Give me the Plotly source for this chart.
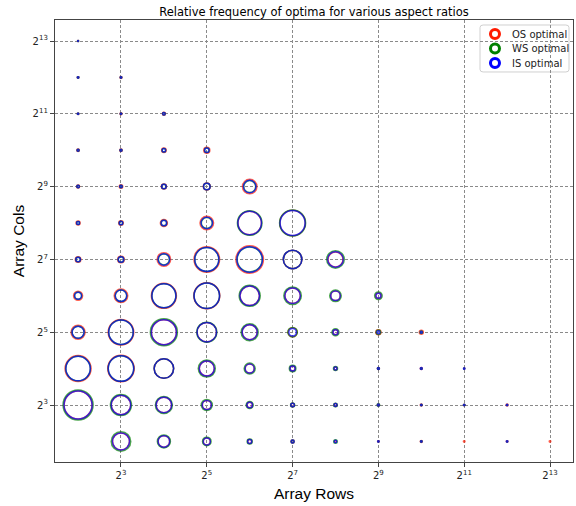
import numpy as np
import plotly.graph_objects as go

# Array shapes evaluated: (rows, cols), grouped by column count (8192 down to 4)
ARRAY_ROWS = [
    4,
    4, 8,
    4, 8, 16,
    4, 8, 16, 32,
    4, 8, 16, 32, 64,
    4, 8, 16, 32, 64, 128,
    4, 8, 16, 32, 64, 128, 256,
    4, 8, 16, 32, 64, 128, 256, 512,
    4, 8, 16, 32, 64, 128, 256, 512, 1024,
    4, 8, 16, 32, 64, 128, 256, 512, 1024, 2048,
    4, 8, 16, 32, 64, 128, 256, 512, 1024, 2048, 4096,
    8, 16, 32, 64, 128, 256, 512, 1024, 2048, 4096, 8192,
]
ARRAY_COLS = [
    8192,
    4096, 4096,
    2048, 2048, 2048,
    1024, 1024, 1024, 1024,
    512, 512, 512, 512, 512,
    256, 256, 256, 256, 256, 256,
    128, 128, 128, 128, 128, 128, 128,
    64, 64, 64, 64, 64, 64, 64, 64,
    32, 32, 32, 32, 32, 32, 32, 32, 32,
    16, 16, 16, 16, 16, 16, 16, 16, 16, 16,
    8, 8, 8, 8, 8, 8, 8, 8, 8, 8, 8,
    4, 4, 4, 4, 4, 4, 4, 4, 4, 4, 4,
]

# Relative frequency (%) with which each shape was optimal, per dataflow
OS_FREQ = [
    0.007,
    0.016, 0.029,
    0.016, 0.029, 0.066,
    0.046, 0.046, 0.148, 0.263,
    0.066, 0.089, 0.182, 0.358, 1.535,
    0.117, 0.148, 0.358, 1.330, 4.031, 4.746,
    0.221, 0.308, 1.330, 4.746, 5.520, 2.498, 1.642,
    0.591, 1.330, 4.562, 4.934, 2.776, 1.754, 0.659, 0.221,
    1.431, 4.746, 4.562, 2.776, 1.642, 0.591, 0.182, 0.182, 0.117,
    4.934, 5.126, 2.776, 1.642, 0.591, 0.182, 0.066, 0.029, 0.029, 0.007,
    5.723, 2.776, 1.754, 0.591, 0.221, 0.089, 0.066, 0.029, 0.029, 0.016, 0.029,
    2.109, 0.965, 0.358, 0.117, 0.066, 0.029, 0.016, 0.029, 0.016, 0.016, 0.016,
]
WS_FREQ = [
    0.007,
    0.016, 0.016,
    0.016, 0.016, 0.046,
    0.029, 0.029, 0.089, 0.148,
    0.046, 0.046, 0.148, 0.308, 1.051,
    0.066, 0.089, 0.221, 0.883, 4.381, 4.934,
    0.148, 0.221, 0.883, 4.204, 4.562, 2.498, 2.235,
    0.358, 0.965, 4.204, 4.746, 3.219, 2.235, 0.965, 0.411,
    1.051, 4.381, 5.321, 2.920, 2.109, 0.659, 0.358, 0.148, 0.046,
    4.381, 4.746, 2.776, 2.109, 0.883, 0.308, 0.117, 0.029, 0.016, 0.007,
    6.569, 3.219, 2.109, 0.883, 0.358, 0.117, 0.089, 0.046, 0.016, 0.016, 0.007,
    2.776, 1.234, 0.527, 0.182, 0.066, 0.089, 0.007, 0.016, 0.0, 0.007, 0.0,
]
IS_FREQ = [
    0.007,
    0.016, 0.016,
    0.016, 0.016, 0.046,
    0.029, 0.029, 0.089, 0.148,
    0.046, 0.046, 0.148, 0.308, 1.141,
    0.066, 0.089, 0.221, 0.965, 4.031, 4.562,
    0.148, 0.221, 0.965, 4.204, 4.746, 2.498, 1.754,
    0.358, 0.965, 4.204, 4.746, 2.776, 1.754, 0.659, 0.182,
    1.051, 4.381, 4.562, 2.776, 1.642, 0.411, 0.182, 0.066, 0.029,
    4.381, 4.746, 2.776, 1.642, 0.591, 0.182, 0.066, 0.029, 0.029, 0.016,
    5.723, 2.776, 1.754, 0.591, 0.221, 0.089, 0.066, 0.029, 0.016, 0.016, 0.016,
    2.109, 0.965, 0.358, 0.117, 0.066, 0.046, 0.016, 0.016, 0.0, 0.016, 0.0,
]

SERIES_NAMES = ["OS optimal", "WS optimal", "IS optimal"]
SERIES_FREQS = [OS_FREQ, WS_FREQ, IS_FREQ]
SERIES_COLORS = ["#ff1a00", "#008000", "#0000ff"]

TICK_EXPS = [3, 5, 7, 9, 11, 13]
TICK_VALS = [2 ** e for e in TICK_EXPS]
TICK_TEXT = [f"2<sup>{e}</sup>" for e in TICK_EXPS]

# bubble area proportional to frequency
SIZEREF = 2.0 / 137.0

rows = np.array(ARRAY_ROWS, dtype=float)
cols = np.array(ARRAY_COLS, dtype=float)

fig = go.Figure()
for name, freq, color in zip(SERIES_NAMES, SERIES_FREQS, SERIES_COLORS):
    f = np.array(freq, dtype=float)
    keep = f > 0
    fig.add_trace(go.Scatter(
        x=rows[keep], y=cols[keep], mode="markers", name=name,
        showlegend=False, hoverinfo="skip",
        marker=dict(symbol="circle-open", size=f[keep], sizemode="area",
                    sizeref=SIZEREF, color=color,
                    line=dict(width=1.5, color=color)),
    ))

# compact legend box in the upper-right corner (unit overlay axes)
LEG_X0, LEG_X1, LEG_Y0, LEG_Y1 = 0.8205, 0.9923, 0.8824, 0.9887
LEG_MARK_X, LEG_TEXT_X = 0.8494, 0.8784
LEG_ROWS_Y = [0.9683, 0.9355, 0.9027]

r = 0.006
fig.add_shape(
    type="path", xref="paper", yref="paper", layer="between",
    path=(f"M {LEG_X0 + r},{LEG_Y0} L {LEG_X1 - r},{LEG_Y0} "
          f"Q {LEG_X1},{LEG_Y0} {LEG_X1},{LEG_Y0 + r} L {LEG_X1},{LEG_Y1 - r} "
          f"Q {LEG_X1},{LEG_Y1} {LEG_X1 - r},{LEG_Y1} L {LEG_X0 + r},{LEG_Y1} "
          f"Q {LEG_X0},{LEG_Y1} {LEG_X0},{LEG_Y1 - r} L {LEG_X0},{LEG_Y0 + r} "
          f"Q {LEG_X0},{LEG_Y0} {LEG_X0 + r},{LEG_Y0} Z"),
    fillcolor="rgba(255,255,255,0.85)", line=dict(color="#d0d0d0", width=1),
)
fig.add_trace(go.Scatter(
    x=[LEG_MARK_X] * 3, y=LEG_ROWS_Y, xaxis="x2", yaxis="y2",
    mode="markers", showlegend=False, hoverinfo="skip", cliponaxis=False,
    marker=dict(symbol="circle-open", size=9, color=SERIES_COLORS,
                line=dict(width=3, color=SERIES_COLORS)),
))
for name, ly in zip(SERIES_NAMES, LEG_ROWS_Y):
    fig.add_annotation(x=LEG_TEXT_X, y=ly, xref="paper", yref="paper",
                       text=name, showarrow=False, xanchor="left", yanchor="middle",
                       font=dict(family="DejaVu Sans", size=10, color="#222222"))

axis_common = dict(
    type="log", tickvals=TICK_VALS, ticktext=TICK_TEXT,
    showgrid=True, gridcolor="#8a8a8a", gridwidth=0.8, griddash="3px,2px",
    zeroline=False, showline=True, mirror=True, linecolor="#444444",
    linewidth=1.2, ticks="outside", ticklen=4, tickcolor="#444444",
    tickfont=dict(family="DejaVu Sans", size=10, color="#222222"),
)

fig.update_layout(
    width=576, height=506,
    margin=dict(l=55, r=3, t=20, b=44),
    paper_bgcolor="white", plot_bgcolor="white",
    showlegend=False,
    title=dict(text="Relative frequency of optima for various aspect ratios",
               x=0.5, xref="paper", xanchor="center", y=0.977, yanchor="middle",
               font=dict(family="DejaVu Sans", size=11.5, color="black")),
    xaxis=dict(axis_common,
               range=[np.log10(2 ** 1.462), np.log10(2 ** 13.536)],
               title=dict(text="Array Rows", standoff=8,
                          font=dict(family="Liberation Sans", size=15.5, color="black"))),
    yaxis=dict(axis_common,
               range=[np.log10(2 ** 1.434), np.log10(2 ** 13.577)],
               title=dict(text="Array Cols", standoff=4,
                          font=dict(family="Liberation Sans", size=15.5, color="black"))),
    xaxis2=dict(overlaying="x", range=[0, 1], visible=False, fixedrange=True),
    yaxis2=dict(overlaying="y", range=[0, 1], visible=False, fixedrange=True),
)

fig.write_html("out.html")
